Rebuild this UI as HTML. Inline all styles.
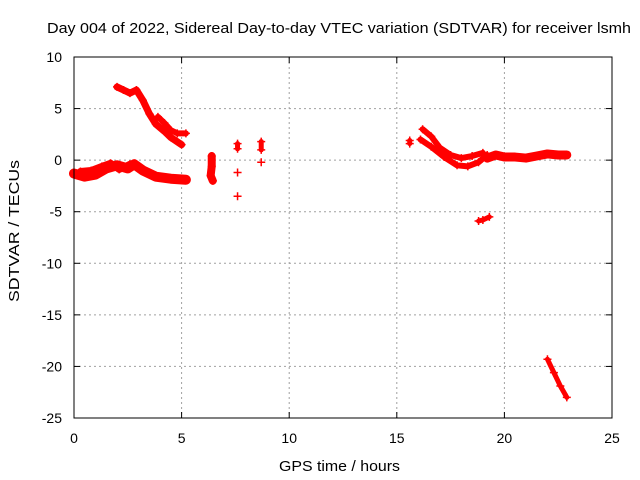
<!DOCTYPE html>
<html><head><meta charset="utf-8"><style>
body{margin:0;background:#fff}
svg{display:block;font-family:"Liberation Sans",sans-serif}
</style></head><body>
<svg id="c" width="640" height="480">
<text x="47" y="33" font-size="15" textLength="584" lengthAdjust="spacingAndGlyphs">Day 004 of 2022, Sidereal Day-to-day VTEC variation (SDTVAR) for receiver lsmh</text>
<text x="279" y="471" font-size="15" textLength="121" lengthAdjust="spacingAndGlyphs">GPS time / hours</text>
<text transform="translate(19,302) rotate(-90)" font-size="15" textLength="142" lengthAdjust="spacingAndGlyphs">SDTVAR / TECUs</text>
<g id="grid"></g><g id="marks"></g><g id="axes"></g>
</svg>
<script>
const xTicks=[0,5,10,15,20,25];
const yTicks=[10,5,0,-5,-10,-15,-20,-25];
const seriesUpper1=[[2.0,7.1],[2.3,6.8],[2.6,6.5],[2.9,6.8],[3.2,5.8],[3.5,4.5],[3.8,3.5],[4.2,2.8],[4.5,2.2],[5.0,1.5]];
const seriesUpper2=[[3.9,4.2],[4.2,3.6],[4.5,2.9],[4.8,2.6],[5.2,2.6]];
const seriesLower=[[0,-1.3],[0.5,-1.6],[1,-1.4],[1.5,-0.8],[2,-0.5],[2.5,-0.8],[2.8,-0.4],[3.2,-1.0],[3.8,-1.6],[4.5,-1.8],[5.2,-1.9]];
const seriesLower2=[[0.3,-1.1],[0.8,-1.0],[1.3,-0.6],[1.7,-0.3],[2.1,-0.9],[2.6,-0.4]];
const seriesC1=[[6.4,0.4],[6.4,-0.6],[6.35,-1.5],[6.45,-2.0]];
const seriesC2=[[7.6,1.6],[7.6,1.1]];
const seriesC3=[[7.6,-1.2]];
const seriesC4=[[7.6,-3.5]];
const seriesC5=[[8.7,1.8],[8.7,1.0]];
const seriesC6=[[8.7,-0.2]];
const seriesC7=[[15.6,1.9],[15.6,1.6]];
const seriesR1=[[16.2,3.0],[16.6,2.3],[17,1.2],[17.5,0.5],[18,0.2],[18.5,0.4],[19,0.7]];
const seriesR2=[[16.1,2.0],[16.6,1.3],[17.2,0.3],[17.8,-0.5],[18.3,-0.6],[18.8,-0.2],[19.2,0.5]];
const seriesR3=[[19.2,0.2],[19.6,0.5],[20,0.3],[20.5,0.3],[21,0.2],[21.5,0.4],[22,0.6],[22.5,0.5],[22.9,0.5]];
const seriesR4=[[18.8,-5.9],[19.0,-5.8],[19.3,-5.5]];
const seriesR5=[[22.0,-19.3],[22.3,-20.6],[22.6,-21.9],[22.9,-23.0]];
const thick=[[seriesUpper1,7],[seriesUpper2,6],[seriesLower,10],[seriesLower2,7],[seriesC1,8],[seriesC2,5],[seriesC3,4],[seriesC4,4],[seriesC5,5],[seriesC6,4],[seriesC7,5],[seriesR1,6],[seriesR2,6],[seriesR3,9],[seriesR4,5],[seriesR5,5]];
const X=h=>74+h*(612-74)/25;
const Y=v=>57+(10-v)*(418-57)/35;
const NS="http://www.w3.org/2000/svg";
function mk(t,a,p){const e=document.createElementNS(NS,t);for(const k in a)e.setAttribute(k,a[k]);p.appendChild(e);return e;}
const grid=document.getElementById('grid'),marks=document.getElementById('marks'),axes=document.getElementById('axes');
xTicks.forEach(t=>{
 if(t>0&&t<25){const l=mk('line',{x1:X(t),x2:X(t),y1:57,y2:418,stroke:'#a0a0a0','stroke-dasharray':'2,3'},grid);
 
 }
 mk('line',{x1:X(t),x2:X(t),y1:418,y2:412,stroke:'#000'},axes);
 mk('line',{x1:X(t),x2:X(t),y1:57,y2:63,stroke:'#000'},axes);
 const tx=mk('text',{x:X(t),y:443,'font-size':14,'text-anchor':'middle'},axes);tx.textContent=t;
 
 
});
yTicks.forEach(t=>{
 if(t<10&&t>-25){const l=mk('line',{x1:74,x2:612,y1:Y(t),y2:Y(t),stroke:'#a0a0a0','stroke-dasharray':'2,3'},grid);
 
 }
 mk('line',{x1:74,x2:80,y1:Y(t),y2:Y(t),stroke:'#000'},axes);
 mk('line',{x1:612,x2:606,y1:Y(t),y2:Y(t),stroke:'#000'},axes);
 const tx=mk('text',{x:62,y:Y(t)+5,'font-size':14,'text-anchor':'end'},axes);tx.textContent=t;
 
 
});
const fr=mk('rect',{x:74,y:57,width:538,height:361,fill:'none',stroke:'#000'},axes);


thick.forEach(([s,w])=>{
 const pts=s.map(p=>X(p[0])+','+Y(p[1])).join(' ');
 const pl=mk('polyline',{points:pts,fill:'none',stroke:'#f00','stroke-width':w,'stroke-linejoin':'round','stroke-linecap':'round'},marks);
 
 
 s.forEach(p=>{
  const g=mk('path',{d:`M${X(p[0])-4},${Y(p[1])}h8M${X(p[0])},${Y(p[1])-4}v8`,stroke:'#f00','stroke-width':1.5},marks);
  
  
 });
});
</script>
</body></html>
